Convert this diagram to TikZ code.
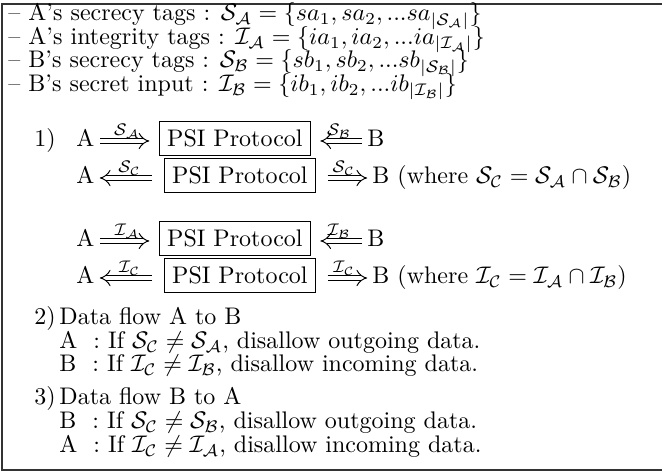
\documentclass[tikz,border=0pt]{standalone}
\usepackage{amsfonts, amsmath}
\usepackage{tikz}
\usetikzlibrary{arrows.meta}

\begin{document}
\begin{tikzpicture}[x=0.4167pt, y=-0.4167pt,
  txt/.style = {anchor = base west, inner sep = 0pt},
  ent/.style = {anchor = base west, inner sep = 0pt, text height = 5pt, text depth = 0pt},
  psi/.style = {draw, anchor = base west, inner xsep = 3.2pt, inner ysep = 3.4pt},
  imp/.style = {double, double distance = 2pt, -{Implies}, shorten <= 2pt, shorten >= 4pt},
  impb/.style = {imp, shorten <= 5pt, shorten >= 2pt},
  lbl/.style = {above, inner sep = 1pt, font = \scriptsize}]
  \useasboundingbox (0, 0) rectangle (662, 473);
  \draw[line width = .6pt, black!80] (662, 4) -- (2, 4) -- (2, 470) -- (662, 470);

  \node[txt] at (8, 21) (l1) {\textendash{} A's secrecy tags : $\mathcal{S}_\mathcal{A} = \{sa_1, sa_2, ...sa_{|\mathcal{S}_\mathcal{A}|}\}$};
  \node[txt] at (8, 44.5) (l2) {\textendash{} A's integrity tags : $\mathcal{I}_\mathcal{A} = \{ia_1, ia_2, ...ia_{|\mathcal{I}_\mathcal{A}|}\}$};
  \node[txt] at (8, 68) (l3) {\textendash{} B's secrecy tags : $\mathcal{S}_\mathcal{B} = \{sb_1, sb_2, ...sb_{|\mathcal{S}_\mathcal{B}|}\}$};
  \node[txt] at (8, 91.5) (l4) {\textendash{} B's secret input : $\mathcal{I}_\mathcal{B} = \{ib_1, ib_2, ...ib_{|\mathcal{I}_\mathcal{B}|}\}$};

  \node[txt] at (34, 147) (n1) {1)};
  \node[ent] at (76, 147) (a1) {A};
  \node[psi] at (159, 147) (p1) {PSI Protocol};
  \node[ent] at (367, 147) (b1) {B};
  \draw[imp] (a1) -- node[lbl] {$\mathcal{S}_\mathcal{A}$} (a1 -| p1.west);
  \draw[imp] (b1) -- node[lbl] {$\mathcal{S}_\mathcal{B}$} (b1 -| p1.east);

  \node[ent] at (76, 184) (a2) {A};
  \node[psi] at (164, 184) (p2) {PSI Protocol};
  \node[ent] at (372, 184) (b2) {B};
  \node[txt] at (397, 184) (w1) {(where $\mathcal{S}_\mathcal{C} = \mathcal{S}_\mathcal{A} \cap \mathcal{S}_\mathcal{B}$)};
  \draw[impb] (p2.west |- a2) -- node[lbl] {$\mathcal{S}_\mathcal{C}$} (a2);
  \draw[impb] (p2.east |- b2) -- node[lbl] {$\mathcal{S}_\mathcal{C}$} (b2);

  \node[ent] at (76, 247) (a3) {A};
  \node[psi] at (159, 247) (p3) {PSI Protocol};
  \node[ent] at (367, 247) (b3) {B};
  \draw[imp] (a3) -- node[lbl] {$\mathcal{I}_\mathcal{A}$} (a3 -| p3.west);
  \draw[imp] (b3) -- node[lbl] {$\mathcal{I}_\mathcal{B}$} (b3 -| p3.east);

  \node[ent] at (76, 284) (a4) {A};
  \node[psi] at (164, 284) (p4) {PSI Protocol};
  \node[ent] at (372, 284) (b4) {B};
  \node[txt] at (397, 284) (w2) {(where $\mathcal{I}_\mathcal{C} = \mathcal{I}_\mathcal{A} \cap \mathcal{I}_\mathcal{B}$)};
  \draw[impb] (p4.west |- a4) -- node[lbl] {$\mathcal{I}_\mathcal{C}$} (a4);
  \draw[impb] (p4.east |- b4) -- node[lbl] {$\mathcal{I}_\mathcal{C}$} (b4);

  \node[txt] at (34, 325) (n2) {2)};
  \node[txt] at (59, 325) (d1) {Data flow A to B};
  \node[txt] at (59, 349) (d2) {A~~: If $\mathcal{S}_\mathcal{C} \neq \mathcal{S}_\mathcal{A}$, disallow outgoing data.};
  \node[txt] at (59, 372) (d3) {B~~: If $\mathcal{I}_\mathcal{C} \neq \mathcal{I}_\mathcal{B}$, disallow incoming data.};

  \node[txt] at (34, 405) (n3) {3)};
  \node[txt] at (59, 405) (e1) {Data flow B to A};
  \node[txt] at (59, 429) (e2) {B~~: If $\mathcal{S}_\mathcal{C} \neq \mathcal{S}_\mathcal{B}$, disallow outgoing data.};
  \node[txt] at (59, 453) (e3) {A~~: If $\mathcal{I}_\mathcal{C} \neq \mathcal{I}_\mathcal{A}$, disallow incoming data.};
\end{tikzpicture}
\end{document}
